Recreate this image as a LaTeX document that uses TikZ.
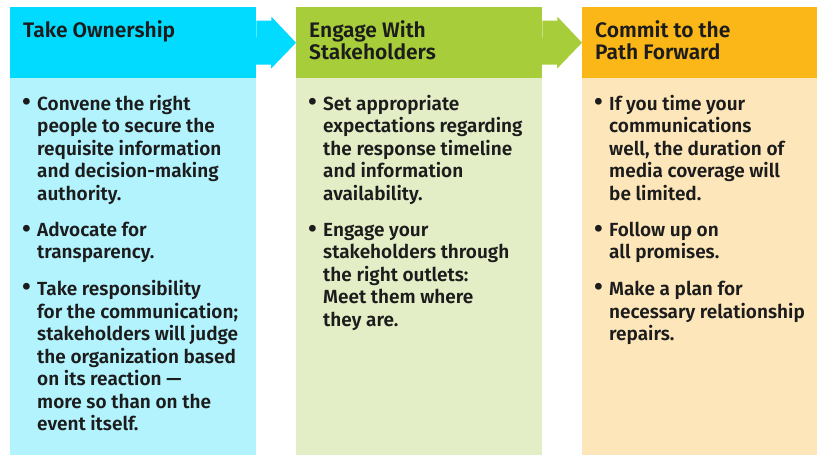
\documentclass[tikz,border=0pt]{standalone}
\usetikzlibrary{calc}
\usepackage{fontspec}
\setmainfont{Fira Sans SemiBold}
\usepackage{tikz}

\definecolor{ownhead}{HTML}{00DBFF}
\definecolor{ownbody}{HTML}{B2F3FD}
\definecolor{enghead}{HTML}{A7CE3A}
\definecolor{engbody}{HTML}{E3EEC6}
\definecolor{comhead}{HTML}{FBB617}
\definecolor{combody}{HTML}{FDE6BA}
\definecolor{ink}{HTML}{1C1C1C}

% one bullet point, lines broken by hand
\newcommand{\bul}[1]{\par\hangindent=15pt\hangafter=1\noindent\makebox[15pt][l]{\raisebox{-0.5pt}{\scalebox{1.35}{\textbullet}}}#1\par}
\newcommand{\gap}{\vspace{14pt}}

\tikzset{
  head/.style={anchor=north west, inner sep=0pt, minimum width=246pt, minimum height=71pt},
  body/.style={anchor=north west, inner sep=0pt, minimum width=246pt, minimum height=377pt},
  title/.style={anchor=base west, inner sep=0pt, text=ink, font=\fontsize{21}{22.6}\selectfont},
  points/.style={anchor=base west, inner sep=0pt, text=ink, font=\fontsize{19}{22.5}\selectfont}
}

\begin{document}
\begin{tikzpicture}[x=1pt,y=-1pt]
    \useasboundingbox[fill=white] (0,0) rectangle (817,455);
    % columns
    \node[head, fill=ownhead] (h1) at (10,7) {};
    \node[body, fill=ownbody] (b1) at (10,78) {};
    \node[head, fill=enghead] (h2) at (296,7) {};
    \node[body, fill=engbody] (b2) at (296,78) {};
    \node[head, fill=comhead, minimum width=235pt] (h3) at (582,7) {};
    \node[body, fill=combody, minimum width=235pt] (b3) at (582,78) {};

    % block arrows between the headers
    \fill[ownhead] ($(h1.east)+(0,-22)$) -- ++(15,0) -- ++(0,-4) -- (h2.west)
        -- ++(-25,26) -- ++(0,-4) -- ++(-15,0) -- cycle;
    \fill[enghead] ($(h2.east)+(0,-22)$) -- ++(15,0) -- ++(0,-4) -- (h3.west)
        -- ++(-25,26) -- ++(0,-4) -- ++(-15,0) -- cycle;

    % titles
    \node[title] (t1) at ($(h1.north west)+(13,30)$)
      {\begin{minipage}[t]{225pt}Take Ownership\end{minipage}};
    \node[title] (t2) at ($(h2.north west)+(13,30)$)
      {\begin{minipage}[t]{225pt}Engage With\\Stakeholders\end{minipage}};
    \node[title] (t3) at ($(h3.north west)+(13,30)$)
      {\begin{minipage}[t]{215pt}Commit to the\\Path Forward\end{minipage}};

    % bullet points
    \node[points] (p1) at ($(b1.north west)+(12,32)$) {\begin{minipage}[t]{240pt}
      \bul{Convene the right\\people to secure the\\requisite information\\and decision-making\\authority.}\gap
      \bul{Advocate for\\transparency.}\gap
      \bul{Take responsibility\\for the communication;\\stakeholders will judge\\the organization based\\on its reaction ---\\more so than on the\\event itself.}
    \end{minipage}};
    \node[points] (p2) at ($(b2.north west)+(12,32)$) {\begin{minipage}[t]{240pt}
      \bul{Set appropriate\\expectations regarding\\the response timeline\\and information\\availability.}\gap
      \bul{Engage your\\stakeholders through\\the right outlets:\\Meet them where\\they are.}
    \end{minipage}};
    \node[points] (p3) at ($(b3.north west)+(12,32)$) {\begin{minipage}[t]{230pt}
      \bul{If you time your\\communications\\well, the duration of\\media coverage will\\be limited.}\gap
      \bul{Follow up on\\all promises.}\gap
      \bul{Make a plan for\\necessary relationship\\repairs.}
    \end{minipage}};
\end{tikzpicture}
\end{document}
